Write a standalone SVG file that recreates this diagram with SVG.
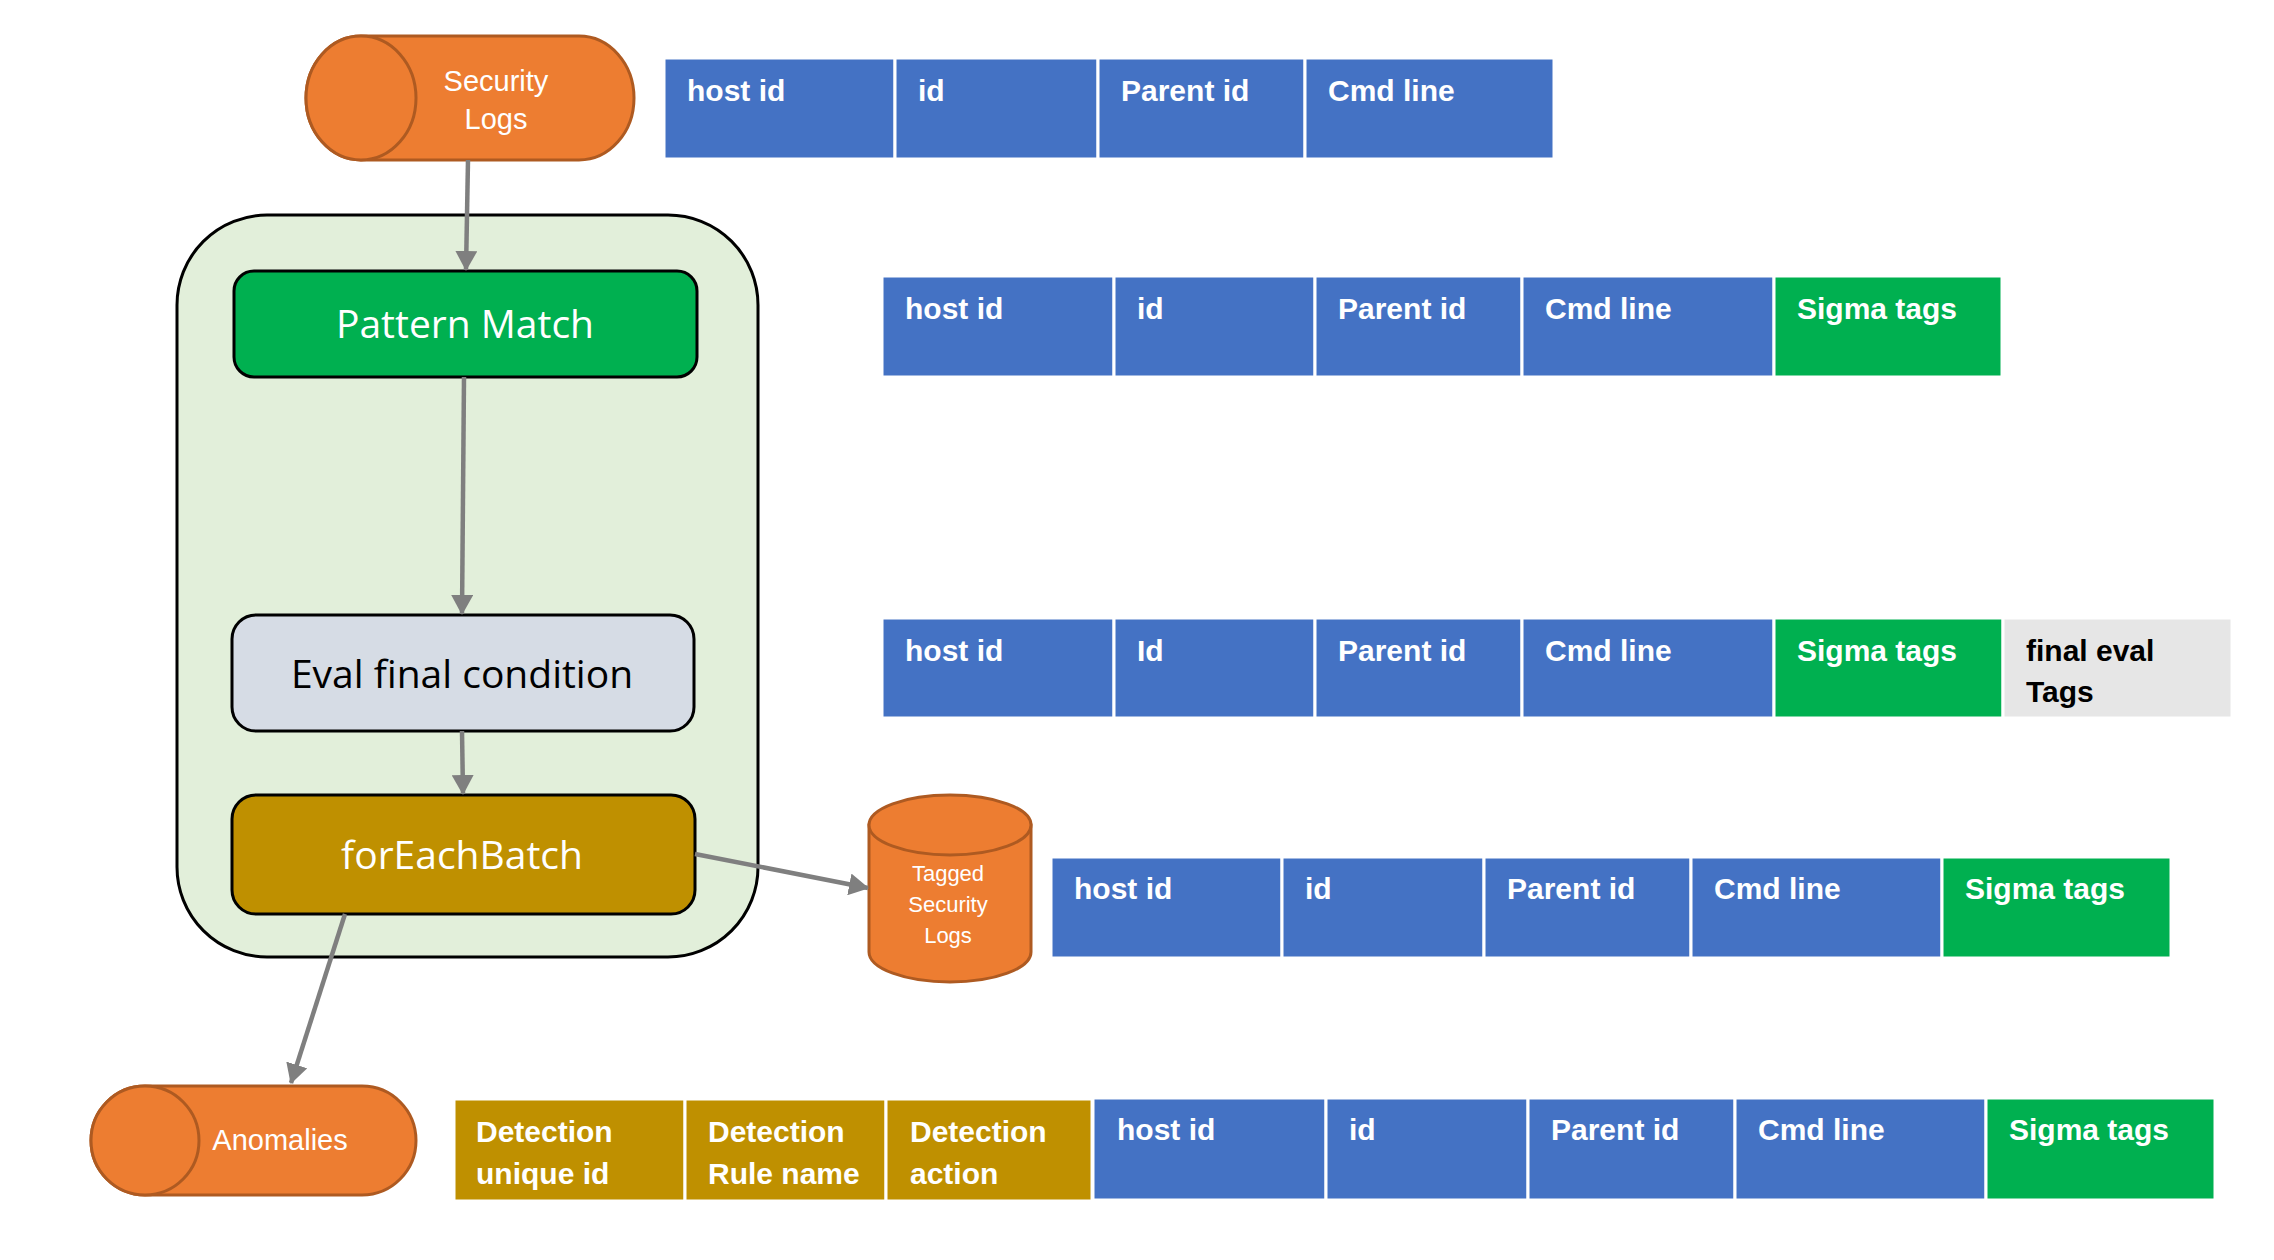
<svg xmlns="http://www.w3.org/2000/svg" width="2274" height="1260" viewBox="0 0 2274 1260">
<style>
.cell{stroke:#fff;stroke-width:3}
.blue{fill:#4472C4}
.green{fill:#00B050}
.gray{fill:#E6E6E6}
.gold{fill:#BF9000}
.ct{font-family:"Liberation Sans",Arial,sans-serif;font-weight:bold;font-size:30px;fill:#fff}
.ctk{font-family:"Liberation Sans",Arial,sans-serif;font-weight:bold;font-size:30px;fill:#000}
.box{stroke:#000;stroke-width:3}
.bt{font-family:"Open Sans","Noto Sans",sans-serif;font-size:39px;text-anchor:middle}
.cyl{fill:#ED7D31;stroke:#AE5A21;stroke-width:3}
.cyt{font-family:"Liberation Sans",Arial,sans-serif;fill:#fff;text-anchor:middle}
.conn{stroke:#7F7F7F;stroke-width:4.5;fill:none}
</style>
<defs>
<marker id="arr" markerUnits="userSpaceOnUse" markerWidth="20" markerHeight="22" viewBox="0 0 20 22" refX="19" refY="11" orient="auto">
<path d="M0,0 L20,11 L0,22 Z" fill="#7F7F7F"/>
</marker>
</defs>
<rect width="2274" height="1260" fill="#fff"/>

<g id="container">
<rect x="177" y="215" width="581" height="742" rx="90" ry="90" fill="#E2EFDA" stroke="#000" stroke-width="3"/>
</g>

<g id="security-logs">
<path class="cyl" d="M361,36 L579,36 A55,62 0 0 1 579,160 L361,160 A55,62 0 0 1 361,36 Z"/>
<ellipse class="cyl" cx="361" cy="98" rx="55" ry="62"/>
<text class="cyt" font-size="29" x="496" y="91">Security</text>
<text class="cyt" font-size="29" x="496" y="129">Logs</text>
</g>

<g id="pattern-match">
<rect class="box" x="234" y="271" width="463" height="106" rx="20" fill="#00B050"/>
<text class="bt" x="465" y="338" fill="#fff">Pattern Match</text>
</g>

<g id="eval-final">
<rect class="box" x="232" y="615" width="462" height="116" rx="24" fill="#D6DCE5"/>
<text class="bt" x="462" y="688" fill="#000">Eval final condition</text>
</g>

<g id="foreachbatch">
<rect class="box" x="232" y="795" width="463" height="119" rx="24" fill="#BF9000"/>
<text class="bt" x="462" y="869" fill="#fff">forEachBatch</text>
</g>

<g id="tagged-logs">
<path class="cyl" d="M869,825 L869,952 A81,30 0 0 0 1031,952 L1031,825 Z"/>
<ellipse class="cyl" cx="950" cy="825" rx="81" ry="30"/>
<text class="cyt" font-size="22" x="948" y="881">Tagged</text>
<text class="cyt" font-size="22" x="948" y="912">Security</text>
<text class="cyt" font-size="22" x="948" y="943">Logs</text>
</g>

<g id="anomalies">
<path class="cyl" d="M145,1086 L362,1086 A54,54.5 0 0 1 362,1195 L145,1195 A54,54.5 0 0 1 145,1086 Z"/>
<ellipse class="cyl" cx="145" cy="1140.5" rx="54" ry="54.5"/>
<text class="cyt" font-size="29" x="280" y="1150">Anomalies</text>
</g>

<g id="row1">
<rect class="cell blue" x="664" y="58" width="231" height="101"/>
<rect class="cell blue" x="895" y="58" width="203" height="101"/>
<rect class="cell blue" x="1098" y="58" width="207" height="101"/>
<rect class="cell blue" x="1305" y="58" width="249" height="101"/>
<text class="ct" x="687" y="101">host id</text>
<text class="ct" x="918" y="101">id</text>
<text class="ct" x="1121" y="101">Parent id</text>
<text class="ct" x="1328" y="101">Cmd line</text>
</g>

<g id="row2">
<rect class="cell blue" x="882" y="276" width="232" height="101"/>
<rect class="cell blue" x="1114" y="276" width="201" height="101"/>
<rect class="cell blue" x="1315" y="276" width="207" height="101"/>
<rect class="cell blue" x="1522" y="276" width="252" height="101"/>
<rect class="cell green" x="1774" y="276" width="228" height="101"/>
<text class="ct" x="905" y="319">host id</text>
<text class="ct" x="1137" y="319">id</text>
<text class="ct" x="1338" y="319">Parent id</text>
<text class="ct" x="1545" y="319">Cmd line</text>
<text class="ct" x="1797" y="319">Sigma tags</text>
</g>

<g id="row3">
<rect class="cell blue" x="882" y="618" width="232" height="100"/>
<rect class="cell blue" x="1114" y="618" width="201" height="100"/>
<rect class="cell blue" x="1315" y="618" width="207" height="100"/>
<rect class="cell blue" x="1522" y="618" width="252" height="100"/>
<rect class="cell green" x="1774" y="618" width="229" height="100"/>
<rect class="cell gray" x="2003" y="618" width="229" height="100"/>
<text class="ct" x="905" y="661">host id</text>
<text class="ct" x="1137" y="661">Id</text>
<text class="ct" x="1338" y="661">Parent id</text>
<text class="ct" x="1545" y="661">Cmd line</text>
<text class="ct" x="1797" y="661">Sigma tags</text>
<text class="ctk" x="2026" y="661">final eval</text>
<text class="ctk" x="2026" y="702">Tags</text>
</g>

<g id="row4">
<rect class="cell blue" x="1051" y="857" width="231" height="101"/>
<rect class="cell blue" x="1282" y="857" width="202" height="101"/>
<rect class="cell blue" x="1484" y="857" width="207" height="101"/>
<rect class="cell blue" x="1691" y="857" width="251" height="101"/>
<rect class="cell green" x="1942" y="857" width="229" height="101"/>
<text class="ct" x="1074" y="899">host id</text>
<text class="ct" x="1305" y="899">id</text>
<text class="ct" x="1507" y="899">Parent id</text>
<text class="ct" x="1714" y="899">Cmd line</text>
<text class="ct" x="1965" y="899">Sigma tags</text>
</g>

<g id="row5">
<rect class="cell gold" x="454" y="1099" width="231" height="102"/>
<rect class="cell gold" x="685" y="1099" width="201" height="102"/>
<rect class="cell gold" x="886" y="1099" width="206" height="102"/>
<rect class="cell blue" x="1093" y="1098" width="233" height="102"/>
<rect class="cell blue" x="1326" y="1098" width="202" height="102"/>
<rect class="cell blue" x="1528" y="1098" width="207" height="102"/>
<rect class="cell blue" x="1735" y="1098" width="251" height="102"/>
<rect class="cell green" x="1986" y="1098" width="229" height="102"/>
<text class="ct" x="476" y="1142">Detection</text>
<text class="ct" x="476" y="1184">unique id</text>
<text class="ct" x="708" y="1142">Detection</text>
<text class="ct" x="708" y="1184">Rule name</text>
<text class="ct" x="910" y="1142">Detection</text>
<text class="ct" x="910" y="1184">action</text>
<text class="ct" x="1117" y="1140">host id</text>
<text class="ct" x="1349" y="1140">id</text>
<text class="ct" x="1551" y="1140">Parent id</text>
<text class="ct" x="1758" y="1140">Cmd line</text>
<text class="ct" x="2009" y="1140">Sigma tags</text>
</g>

<g id="connectors">
<line class="conn" x1="468" y1="160" x2="466" y2="270" marker-end="url(#arr)"/>
<line class="conn" x1="464" y1="377" x2="462" y2="614" marker-end="url(#arr)"/>
<line class="conn" x1="462" y1="731" x2="463" y2="794" marker-end="url(#arr)"/>
<line class="conn" x1="695" y1="854" x2="868" y2="888" marker-end="url(#arr)"/>
<line class="conn" x1="345" y1="914" x2="291" y2="1083" marker-end="url(#arr)"/>
</g>
</svg>
